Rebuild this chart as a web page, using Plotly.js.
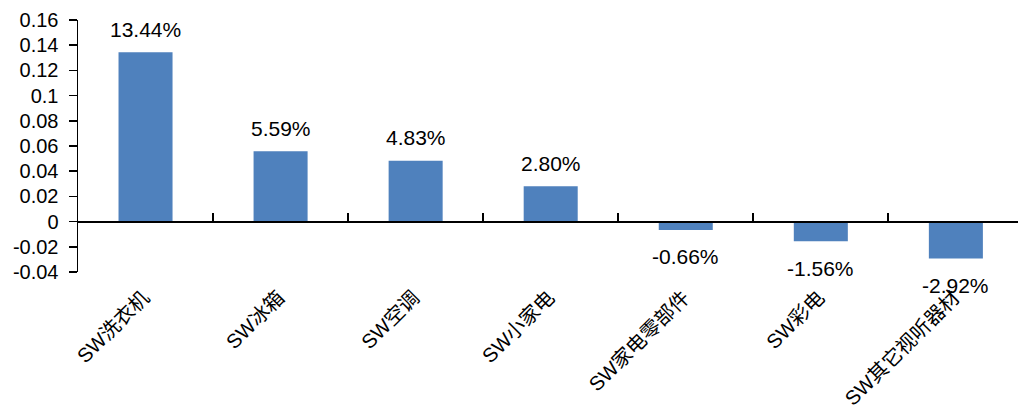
<!DOCTYPE html>
<html>
<head>
<meta charset="utf-8">
<script src="https://cdn.plot.ly/plotly-3.0.1.min.js"></script>
<style>html,body{margin:0;padding:0;background:#fff;}</style>
</head>
<body>
<div id="chart" style="width:1018px;height:416px;"></div>
<script>
const categories = ["SW洗衣机", "SW冰箱", "SW空调", "SW小家电", "SW家电零部件", "SW彩电", "SW其它视听器材"];
const values = [0.1344, 0.0559, 0.0483, 0.0280, -0.0066, -0.0156, -0.0292];
const yTickVals = [-0.04, -0.02, 0, 0.02, 0.04, 0.06, 0.08, 0.1, 0.12, 0.14, 0.16];
const yTickText = ["-0.04", "-0.02", "0", "0.02", "0.04", "0.06", "0.08", "0.1", "0.12", "0.14", "0.16"];

const FONT = "'Liberation Sans', Arial, 'Noto Sans CJK SC', sans-serif";
const labels = values.map(v => (v * 100).toFixed(2) + "%");

const traces = [
  {
    type: "bar",
    x: categories,
    y: values,
    width: 0.4,
    marker: {color: "#4F81BD"},
    hoverinfo: "skip",
    xaxis: "x",
    yaxis: "y"
  },
  {
    type: "scatter",
    mode: "markers",
    x: categories,
    y: values,
    marker: {opacity: 0, size: 1},
    hoverinfo: "skip",
    showlegend: false,
    xaxis: "x2",
    yaxis: "y"
  }
];

const annotations = categories.map((c, i) => ({
  x: c,
  y: values[i],
  xref: "x",
  yref: "y",
  text: labels[i],
  showarrow: false,
  yanchor: "middle",
  xanchor: "center",
  yshift: values[i] >= 0 ? 23 : -27,
  font: {family: FONT, size: 21, color: "#000"}
}));

const xRange = [-0.5, 6.46];

const layout = {
  width: 1018,
  height: 416,
  margin: {l: 78, r: 0, t: 20, b: 144},
  paper_bgcolor: "#fff",
  plot_bgcolor: "#fff",
  showlegend: false,
  font: {family: FONT, size: 20, color: "#000"},
  xaxis: {
    type: "category",
    categoryorder: "array",
    categoryarray: categories,
    range: xRange,
    showline: false,
    showgrid: false,
    zeroline: false,
    ticks: "",
    tickangle: -45,
    ticklabelstandoff: 9,
    ticklabelshift: -2,
    tickfont: {family: FONT, size: 20, color: "#000"},
    fixedrange: true
  },
  xaxis2: {
    type: "category",
    categoryorder: "array",
    categoryarray: categories,
    range: xRange,
    overlaying: "x",
    anchor: "free",
    position: 0.2,
    side: "bottom",
    showline: true,
    linecolor: "#000",
    linewidth: 2,
    showgrid: false,
    zeroline: false,
    ticks: "inside",
    tickson: "boundaries",
    ticklen: 8,
    tickwidth: 2,
    tickcolor: "#000",
    showticklabels: false,
    fixedrange: true
  },
  yaxis: {
    range: [-0.04, 0.16],
    tickvals: yTickVals,
    ticktext: yTickText,
    showline: true,
    linecolor: "#000",
    linewidth: 1.5,
    ticks: "outside",
    ticklen: 8,
    tickwidth: 1.5,
    tickcolor: "#000",
    showgrid: false,
    zeroline: false,
    ticklabelstandoff: 6,
    tickfont: {family: FONT, size: 20, color: "#000"},
    fixedrange: true
  },
  annotations: annotations
};

Plotly.newPlot("chart", traces, layout, {displayModeBar: false, staticPlot: true});
</script>
</body>
</html>
